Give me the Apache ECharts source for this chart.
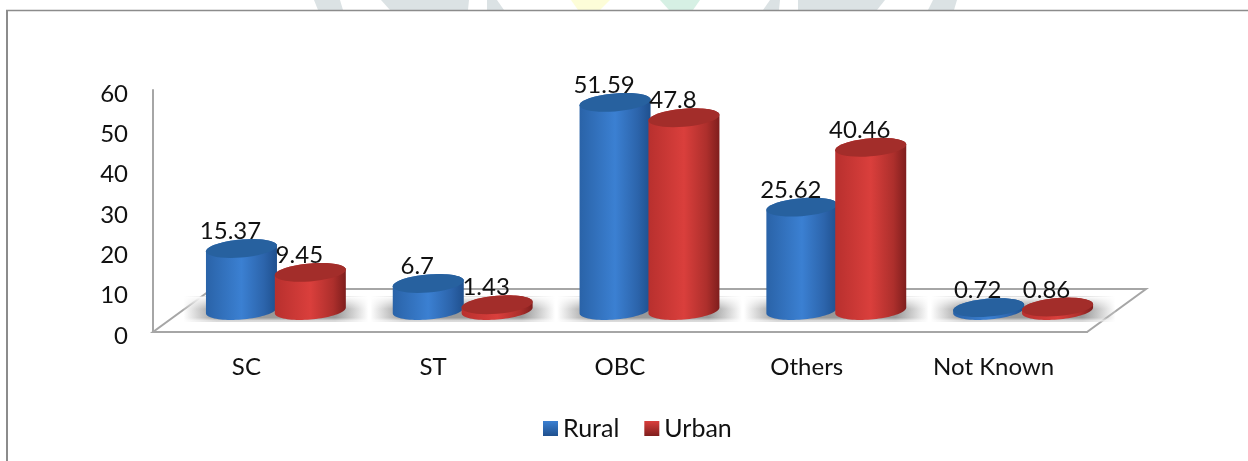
<!DOCTYPE html>
<html>
<head>
<meta charset="utf-8">
<title>Rural and urban shares by social group</title>
<script src="https://cdn.jsdelivr.net/npm/echarts@6/dist/echarts.min.js"></script>
<style>
  html, body { margin: 0; padding: 0; background: #fff; }
  #chart { width: 1248px; height: 461px; }
</style>
</head>
<body>
<div id="chart"></div>
<script>
const categories = ['SC', 'ST', 'OBC', 'Others', 'Not Known']
const rural = [15.37, 6.7, 51.59, 25.62, 0.72]
const urban = [9.45, 1.43, 47.8, 40.46, 0.86]
const yTicks = { min: 0, max: 60, interval: 10 }

// fake 3D: bars stand half way back on a sheared floor
const depth = { x: 59, y: 43 }
const barWidth = 71
const font = 'Lato, "Open Sans", sans-serif'

const blue = { edge: '#2a63a8', mid: '#3b80d2', shade: '#2c64ab', right: '#1f508e', top: '#27619f' }
const red = { edge: '#b8302e', mid: '#da3f3c', shade: '#ad2f2c', right: '#7f1e1d', top: '#a32d2a' }

function bodyFill(c) {
  return {
    type: 'linear', x: 0, y: 0, x2: 1, y2: 0,
    colorStops: [
      { offset: 0, color: c.edge },
      { offset: 0.5, color: c.mid },
      { offset: 0.82, color: c.shade },
      { offset: 1, color: c.right }
    ]
  }
}

function legendFill(c) {
  return {
    type: 'linear', x: 0, y: 0, x2: 0, y2: 1,
    colorStops: [{ offset: 0, color: c.mid }, { offset: 1, color: c.right }]
  }
}

// sheared ellipse arc, so the sides of a cylinder stay vertical
function arc(cx, cy, rx, ry, from, to) {
  const pts = []
  for (let k = 0; k <= 40; k++) {
    const t = from + (to - from) * k / 40
    const dx = rx * Math.cos(t)
    pts.push([cx + dx, cy + ry * Math.sin(t) - dx * 0.08])
  }
  return pts
}

function cylinderSeries(name, values, side, colors) {
  return {
    name,
    type: 'custom',
    silent: true,
    data: values.map((v, i) => [i, v]),
    renderItem(params, api) {
      const i = api.value(0)
      const top = api.coord([i, api.value(1)])
      const base = api.coord([i, 0])
      const cx = base[0] + depth.x / 2 + side * barWidth * 0.485
      const baseY = base[1] - depth.y / 2
      const topY = top[1] - depth.y / 2
      const rx = barWidth / 2
      const ry = 9
      const body = arc(cx, baseY, rx, ry, 0, Math.PI).concat(arc(cx, topY, rx, ry, Math.PI, 2 * Math.PI))
      return {
        type: 'group',
        children: [
          { type: 'polygon', shape: { points: body }, style: { fill: bodyFill(colors) } },
          { type: 'polygon', shape: { points: arc(cx, topY, rx, ry, 0, 2 * Math.PI) }, style: { fill: colors.top } },
          {
            type: 'text',
            z2: 10,
            x: cx - 11,
            y: topY - 17,
            style: {
              text: String(api.value(1)),
              fill: '#111',
              font: '24px ' + font,
              align: 'center',
              verticalAlign: 'middle'
            }
          }
        ]
      }
    }
  }
}

const floorSeries = {
  type: 'custom',
  silent: true,
  data: [[0, 0]],
  renderItem(params) {
    const g = params.coordSys
    const y0 = g.y + g.height
    const x1 = g.x + g.width
    return {
      type: 'polygon',
      shape: {
        points: [[g.x, y0], [x1, y0], [x1 + depth.x, y0 - depth.y], [g.x + depth.x, y0 - depth.y]]
      },
      style: { fill: '#fff', stroke: '#a6a6a6', lineWidth: 2 }
    }
  }
}

const shadowSeries = {
  type: 'custom',
  silent: true,
  data: categories.map((c, i) => [i, 0]),
  renderItem(params, api) {
    const base = api.coord([api.value(0), 0])
    const cx = base[0] + depth.x / 2
    const baseY = base[1] - depth.y / 2
    const half = barWidth * 1.3
    return {
      type: 'group',
      children: [
        {
          type: 'rect',
          shape: { x: cx - half, y: baseY - 14, width: half * 2, height: 25 },
          style: {
            fill: {
              type: 'linear', x: 0, y: 0, x2: 1, y2: 0,
              colorStops: [
                { offset: 0, color: 'rgba(130,130,130,0)' },
                { offset: 0.18, color: 'rgba(130,130,130,1)' },
                { offset: 0.82, color: 'rgba(130,130,130,1)' },
                { offset: 1, color: 'rgba(130,130,130,0)' }
              ]
            }
          }
        },
        {
          type: 'rect',
          shape: { x: cx - half, y: baseY - 14, width: half * 2, height: 25 },
          style: {
            fill: {
              type: 'linear', x: 0, y: 0, x2: 0, y2: 1,
              colorStops: [
                { offset: 0, color: 'rgba(255,255,255,1)' },
                { offset: 0.5, color: 'rgba(255,255,255,0.15)' },
                { offset: 0.85, color: 'rgba(255,255,255,0.2)' },
                { offset: 1, color: 'rgba(255,255,255,0.85)' }
              ]
            }
          }
        }
      ]
    }
  }
}

// watermark from the page behind the chart, only its lower edge shows above the frame
const watermark = [
  { color: '#dbe2e4', points: [[314, 0], [340, 0], [343, 10], [318, 10]] },
  { color: '#dbe2e4', points: [[381, 0], [469, 0], [468, 10], [390, 10]] },
  { color: '#dbe2e4', points: [[487, 0], [497, 0], [504, 10], [487, 10]] },
  { color: '#fdfdd8', points: [[571, 0], [610, 0], [600, 10], [578, 10]] },
  { color: '#d6f0e4', points: [[660, 0], [700, 0], [693, 10], [669, 10]] },
  { color: '#dbe2e4', points: [[770, 0], [780, 0], [779, 10], [763, 10]] },
  { color: '#dbe2e4', points: [[798, 0], [885, 0], [877, 10], [798, 10]] },
  { color: '#dbe2e4', points: [[933, 0], [957, 0], [954, 10], [928, 10]] }
]

const chart = echarts.init(document.getElementById('chart'))
chart.setOption({
  animation: false,
  backgroundColor: '#fff',
  graphic: watermark.map(p => ({
    type: 'polygon',
    silent: true,
    shape: { points: p.points },
    style: { fill: p.color }
  })).concat([
    { type: 'line', silent: true, shape: { x1: 6, y1: 10.5, x2: 1248, y2: 10.5 }, style: { stroke: '#8c8c8c', lineWidth: 1.5 } },
    { type: 'line', silent: true, shape: { x1: 7, y1: 10, x2: 7, y2: 461 }, style: { stroke: '#8c8c8c', lineWidth: 2 } }
  ]),
  grid: { left: 153, right: 161, top: 90, bottom: 129 },
  legend: {
    left: 538,
    top: 411,
    itemWidth: 15,
    itemHeight: 15,
    itemGap: 25,
    icon: 'rect',
    selectedMode: false,
    textStyle: { fontFamily: font, fontSize: 25, color: '#111' },
    data: [
      { name: 'Rural', itemStyle: { color: legendFill(blue) } },
      { name: 'Urban', itemStyle: { color: legendFill(red) } }
    ]
  },
  xAxis: {
    type: 'category',
    data: categories,
    axisTick: { show: false },
    axisLine: { lineStyle: { color: '#a6a6a6', width: 2 } },
    axisLabel: { color: '#111', fontFamily: font, fontSize: 24, margin: 23 }
  },
  yAxis: {
    type: 'value',
    min: yTicks.min,
    max: yTicks.max,
    interval: yTicks.interval,
    splitLine: { show: false },
    axisTick: { show: false },
    axisLine: { show: true, lineStyle: { color: '#a6a6a6', width: 2 } },
    // top aligned with a short line box, puts the digits a few px under the tick like the source
    axisLabel: { color: '#111', fontFamily: font, fontSize: 24, margin: 25, verticalAlign: 'top', lineHeight: 8 }
  },
  series: [
    floorSeries,
    shadowSeries,
    cylinderSeries('Rural', rural, -1, blue),
    cylinderSeries('Urban', urban, 1, red)
  ]
})
</script>
</body>
</html>
